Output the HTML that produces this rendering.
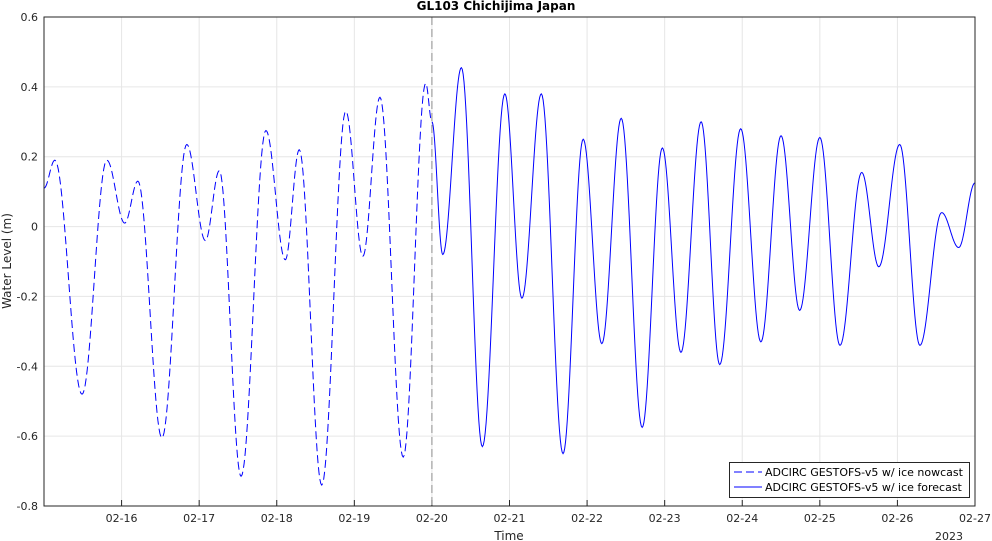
<!DOCTYPE html>
<html><head><meta charset="utf-8"><style>
body{margin:0;background:#fff;}
svg{display:block;font-family:"DejaVu Sans","Liberation Sans",sans-serif;}
</style></head><body>
<svg id="chart" width="992" height="541" viewBox="0 0 992 541"></svg>
<script>
const nowT=[0,0.14,0.49,0.81,1.04,1.21,1.52,1.84,2.08,2.26,2.54,2.86,3.11,3.29,3.58,3.89,4.11,4.33,4.63,4.92,5.0];
const nowV=[0.11,0.19,-0.48,0.19,0.01,0.13,-0.605,0.235,-0.04,0.16,-0.715,0.275,-0.095,0.22,-0.74,0.33,-0.085,0.37,-0.66,0.41,0.30];
const fcT=[5.0,5.14,5.38,5.65,5.94,6.16,6.41,6.69,6.95,7.19,7.44,7.71,7.97,8.21,8.47,8.71,8.98,9.24,9.5,9.74,10.0,10.26,10.54,10.76,11.03,11.29,11.57,11.79,12.0];
const fcV=[0.30,-0.08,0.455,-0.63,0.38,-0.205,0.38,-0.65,0.25,-0.335,0.31,-0.575,0.225,-0.36,0.3,-0.395,0.28,-0.33,0.26,-0.24,0.255,-0.34,0.155,-0.115,0.235,-0.34,0.04,-0.06,0.125];
const yTicks=[-0.8,-0.6,-0.4,-0.2,0,0.2,0.4,0.6];
const xTickDays=[1,2,3,4,5,6,7,8,9,10,11,12];
const xTickLabels=["02-16","02-17","02-18","02-19","02-20","02-21","02-22","02-23","02-24","02-25","02-26","02-27"];
const L=44,R=975,T=17,B=506;
const xs=d=>L+(R-L)*d/12;
const ys=v=>T+(B-T)*(0.6-v)/1.4;
const NS="http://www.w3.org/2000/svg";
const svg=document.getElementById('chart');
function mk(tag,attrs,parent){const e=document.createElementNS(NS,tag);for(const k in attrs)e.setAttribute(k,attrs[k]);(parent||svg).appendChild(e);return e;}
const bg=mk('rect',{x:L,y:T,width:R-L,height:B-T,fill:'#fff',stroke:'none'});


yTicks.forEach(v=>{
 const g=mk('line',{x1:L,x2:R,y1:ys(v),y2:ys(v),stroke:'#e6e6e6','stroke-width':1});
 
 
 const t=mk('text',{x:L-6,y:ys(v)+4,'text-anchor':'end','font-size':11,fill:'#262626'});
 t.textContent=(v===0?'0':v.toFixed(1));
 
 
});
xTickDays.forEach((d,i)=>{
 const g=mk('line',{x1:xs(d),x2:xs(d),y1:T,y2:B,stroke:'#e6e6e6','stroke-width':1});
 
 
 const tk=mk('line',{x1:xs(d),x2:xs(d),y1:B,y2:B-6,stroke:'#262626','stroke-width':1});
 
 
 const t=mk('text',{x:xs(d),y:B+16,'text-anchor':'middle','font-size':11,fill:'#262626'});
 t.textContent=xTickLabels[i];
 
 
});
function curve(Ts,Vs){
 let p='';
 for(let i=0;i<Ts.length-1;i++){
  const n=24;
  for(let k=(i?1:0);k<=n;k++){
   const f=k/n,w=(1-Math.cos(Math.PI*f))/2;
   const x=xs(Ts[i]+(Ts[i+1]-Ts[i])*f),y=ys(Vs[i]+(Vs[i+1]-Vs[i])*w);
   p+=(p?'L':'M')+x.toFixed(2)+','+y.toFixed(2);
  }
 }
 return p;
}
const vl=mk('line',{x1:xs(5),x2:xs(5),y1:T,y2:B,stroke:'#8c8c8c','stroke-width':1,'stroke-dasharray':'8,4'});


const pn=mk('path',{d:curve(nowT,nowV),fill:'none',stroke:'#0000ff','stroke-width':1,'stroke-dasharray':'8,4'});


const pf=mk('path',{d:curve(fcT,fcV),fill:'none',stroke:'#0000ff','stroke-width':1});


const fr=mk('rect',{x:L,y:T,width:R-L,height:B-T,fill:'none',stroke:'#262626','stroke-width':1});


</script>
<svg style="position:absolute;left:0;top:0" width="992" height="541">
<text x="496" y="10" text-anchor="middle" font-size="12" font-weight="bold" fill="#000" font-family="DejaVu Sans, Liberation Sans, sans-serif">GL103 Chichijima Japan</text>
<text x="509" y="540" text-anchor="middle" font-size="12" fill="#262626" font-family="DejaVu Sans, Liberation Sans, sans-serif">Time</text>
<text x="949" y="540" text-anchor="middle" font-size="11" fill="#262626" font-family="DejaVu Sans, Liberation Sans, sans-serif">2023</text>
<text transform="translate(11,261) rotate(-90)" text-anchor="middle" font-size="12" fill="#262626" font-family="DejaVu Sans, Liberation Sans, sans-serif">Water Level (m)</text>
<g font-family="DejaVu Sans, Liberation Sans, sans-serif" font-size="11" fill="#000">
<rect x="729.5" y="462.5" width="240" height="35" fill="#fff" stroke="#262626"/>
<line x1="734" x2="762" y1="472" y2="472" stroke="#0000ff" stroke-dasharray="8,4"/>
<text x="765" y="476">ADCIRC GESTOFS-v5 w/ ice nowcast</text>
<line x1="734" x2="762" y1="487" y2="487" stroke="#0000ff"/>
<text x="765" y="491">ADCIRC GESTOFS-v5 w/ ice forecast</text>
</g>
</svg>
</body></html>
